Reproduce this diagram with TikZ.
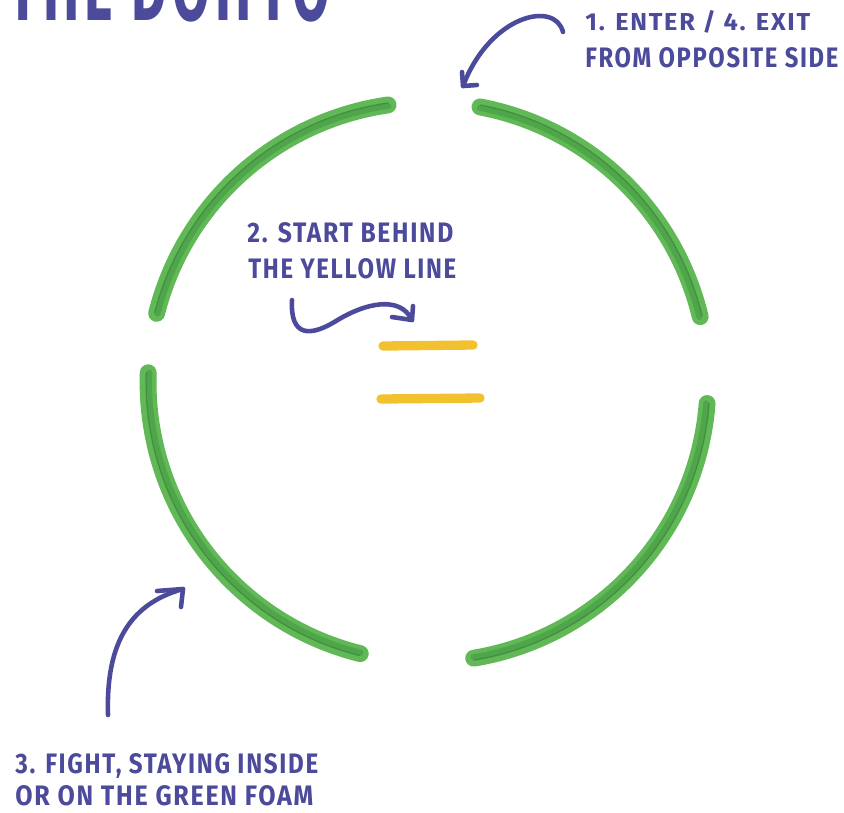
\documentclass[tikz,border=0pt]{standalone}
\usepackage{fontspec}
\setmainfont{Fira Sans}
\usetikzlibrary{calc}
\definecolor{ink}{RGB}{75,74,155}
\definecolor{foam}{RGB}{96,184,86}
\definecolor{foamdark}{RGB}{60,142,60}
\definecolor{tape}{RGB}{242,193,48}
\newcommand{\handtext}[2]{\resizebox{#1}{0.4cm}{\bfseries\addfontfeature{LetterSpace=7}#2}}
\begin{document}
\begin{tikzpicture}[x=0.02cm,y=-0.02cm,
  foamarc/.style={draw=foam,line width=9.6pt,line cap=round},
  foamcore/.style={draw=foamdark,line width=3.4pt,line cap=round,opacity=0.45},
  foamline/.style={draw=foamdark!80!black,line width=0.7pt,line cap=round,opacity=0.5},
  tapeline/.style={draw=tape,line width=5.3pt,line cap=round},
  inkarrow/.style={draw=ink,line width=2.6pt,line cap=round,line join=round},
  lbl/.style={anchor=base west,inner sep=0pt,text=ink}]
\useasboundingbox (0,0) rectangle (844,812);
% title (cut off at top)
\begin{scope}
\clip (0,0) rectangle (844,812);
\node[lbl] (title) at (8,20) {\resizebox{6.44cm}{1.4cm}{\bfseries\addfontfeature{LetterSpace=10}THE DOHYO}};
\end{scope}
% green foam ring
\coordinate (ring) at (428,382);
\foreach \a/\b in {98.2/165.8, 79.3/13.5, 178.1/256.0, -4.4/-80.6}{
  \draw[foamarc] (ring) ++(\a:5.6cm) arc[start angle=\a, end angle=\b, radius=5.6cm];
  \draw[foamcore] (ring) ++(\a:5.58cm) arc[start angle=\a, end angle=\b, radius=5.58cm];
  \draw[foamline] (ring) ++(\a:5.64cm) arc[start angle=\a, end angle=\b, radius=5.64cm];
}
% yellow lines
\draw[tapeline] (383,346) -- (473,345);
\draw[tapeline] (381,399) -- (480,398);
% labels
\node[lbl] (l1a) at (585,30) {\handtext{4.5cm}{1. ENTER / 4. EXIT}};
\node[lbl] (l1b) at (585,67) {\handtext{5.06cm}{FROM OPPOSITE SIDE}};
\node[lbl] (l2a) at (247,242) {\handtext{4.12cm}{2. START BEHIND}};
\node[lbl] (l2b) at (248,278) {\handtext{4.16cm}{THE YELLOW LINE}};
\node[lbl] (l3a) at (15,773) {\handtext{6.06cm}{3. FIGHT, STAYING INSIDE}};
\node[lbl] (l3b) at (15,805) {\handtext{5.96cm}{OR ON THE GREEN FOAM}};
% arrows
\coordinate (a1s) at (563,32);
\coordinate (a1t) at (463,86);
\draw[inkarrow] (a1s) .. controls (555,0) and (490,15) .. (a1t);
\draw[inkarrow] ($(a1t)+(-1,-14)$) -- (a1t) -- ($(a1t)+(14,-1)$);
\coordinate (a2s) at (292,300);
\coordinate (a2t) at (412,320);
\draw[inkarrow] (a2s) .. controls (290,337) and (310,337) .. (336,321) .. controls (365,303) and (400,295) .. (a2t);
\draw[inkarrow] ($(a2t)+(1,-14)$) -- (a2t) -- ($(a2t)+(-20,-3)$);
\coordinate (a3s) at (108,715);
\coordinate (a3t) at (183,589);
\draw[inkarrow] (a3s) .. controls (106,650) and (125,605) .. (a3t);
\draw[inkarrow] ($(a3t)+(-26,2)$) -- (a3t) -- ($(a3t)+(-2,18)$);
\end{tikzpicture}
\end{document}
